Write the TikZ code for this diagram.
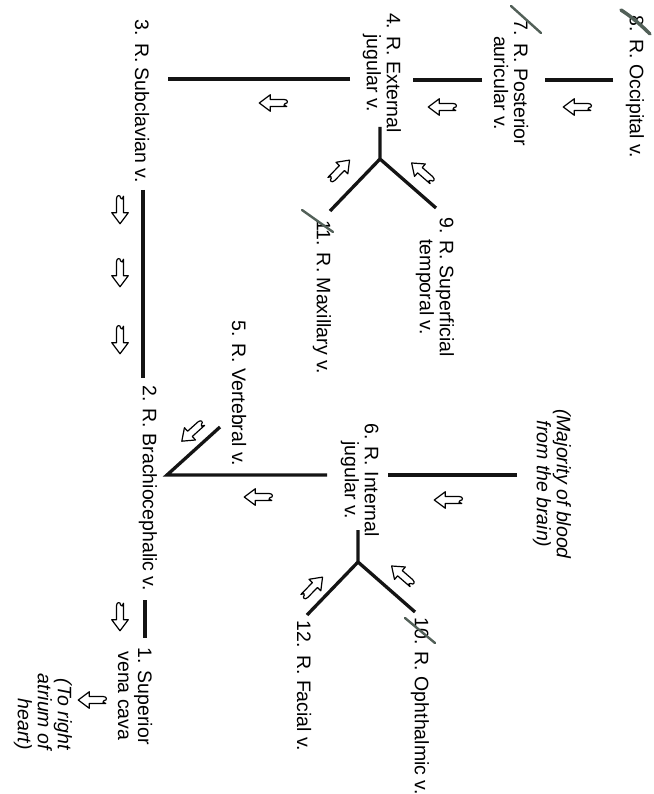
\documentclass[tikz,border=0pt]{standalone}
\usepackage{fontspec}
\setmainfont{Liberation Sans}
\definecolor{strikecol}{RGB}{82,96,88}
\tikzset{
  lbl/.style={rotate=-90, font=\fontsize{19.5}{20}\selectfont, align=center, inner sep=0pt},
  ital/.style={rotate=-90, font=\fontsize{19.5}{20}\selectfont\itshape, inner sep=0pt},
  vein/.style={line width=3.3pt, draw=black!92},
  strike/.style={line width=2.4pt, draw=strikecol, line cap=round},
  flow/.pic={\draw[line width=1.2pt, fill=white, line join=round, scale=1.1]
     (12.5,0) -- (2.5,7.5) -- (2.5,3.2) -- (-10,3.2)
     .. controls (-14,3.2) and (-14,-0.5) .. (-11,-0.5)
     .. controls (-9,-0.5) and (-10,-3.2) .. (-12.5,-3.2)
     -- (2.5,-3.2) -- (2.5,-7.5) -- cycle;}
}
\begin{document}
\begin{tikzpicture}[x=1pt,y=-1pt]
\fill[white] (0,0) rectangle (653,794);
\useasboundingbox (0,0) rectangle (653,794);

% labels
\node[lbl] (occ) at (635,87) {8. R. Occipital v.};
\node[lbl] (post) at (511,83) {7. R. Posterior\\auricular v.};
\node[lbl] (ext) at (382,73) {4. R. External\\jugular v.};
\node[lbl] (sup) at (435,287) {9. R. Superficial\\temporal v.};
\node[lbl] (max) at (322,297) {11. R. Maxillary v.};
\node[lbl] (sub) at (142,101) {3. R. Subclavian v.};
\node[lbl] (brach) at (148,488) {2. R. Brachiocephalic v.};
\node[lbl] (vert) at (239,393) {5. R. Vertebral v.};
\node[lbl] (int) at (360,480) {6. R. Internal\\jugular v.};
\node[ital, align=center] (maj) at (552,484) {(Majority of blood\\from the brain)};
\node[lbl] (oph) at (420,706) {10. R. Ophthalmic v.};
\node[lbl] (fac) at (304,686) {12. R. Facial v.};
\node[lbl] (svc) at (135,696) {1. Superior\\vena cava};
\node[ital, align=right, anchor=east] (atr) at (43,750) {(To right\\atrium of\\heart)};

% coordinates
\coordinate (occA) at (613,80); \coordinate (occB) at (545,80);
\coordinate (postA) at (482,80); \coordinate (postB) at (413,80);
\coordinate (extA) at (350,79); \coordinate (extB) at (168,79);
\coordinate (extS) at (380,127); \coordinate (extJ) at (380,159);
\coordinate (maxE) at (330,211); \coordinate (supE) at (436,208);
\coordinate (subA) at (143,190); \coordinate (subB) at (143,378);
\coordinate (brJ) at (167,475); \coordinate (brI) at (327,475);
\coordinate (vertE) at (220,427);
\coordinate (majA) at (517,475); \coordinate (majB) at (388,475);
\coordinate (intS) at (358,530); \coordinate (intJ) at (358,562);
\coordinate (facE) at (307,615); \coordinate (ophE) at (415,612);
\coordinate (svcA) at (145,600); \coordinate (svcB) at (145,638);

% veins
\draw[vein] (occA) -- (occB);
\draw[vein] (postA) -- (postB);
\draw[vein] (extA) -- (extB);
\draw[vein] (extS) -- (extJ) (maxE) -- (extJ) -- (supE);
\draw[vein] (subA) -- (subB);
\draw[vein] (brI) -- (brJ) -- (vertE);
\draw[vein] (majA) -- (majB);
\draw[vein] (intS) -- (intJ) (facE) -- (intJ) -- (ophE);
\draw[vein] (svcA) -- (svcB);

% flow arrows
\pic[rotate=180] at (577,107) {flow};
\pic[rotate=180] at (442,107) {flow};
\pic[rotate=180] at (273,103) {flow};
\pic[rotate=139] at (422,172) {flow};
\pic[rotate=46] at (340,170) {flow};
\pic[rotate=-90] at (120,210) {flow};
\pic[rotate=-90] at (120,273) {flow};
\pic[rotate=-90] at (120,340) {flow};
\pic[rotate=222] at (192,432) {flow};
\pic[rotate=180] at (258,497) {flow};
\pic[rotate=180] at (448,500) {flow};
\pic[rotate=139] at (402,575) {flow};
\pic[rotate=46] at (313,587) {flow};
\pic[rotate=-90] at (120,617) {flow};
\pic[rotate=180] at (92,700) {flow};

% handwritten strike marks
\draw[strike, line width=3.5pt] (621,10) .. controls (632,17) and (642,26) .. (650,34);
\draw[strike] (511,6) -- (541,33);
\draw[strike] (302,210) -- (333,232);
\draw[strike] (405,618) -- (435,643);
\end{tikzpicture}
\end{document}
